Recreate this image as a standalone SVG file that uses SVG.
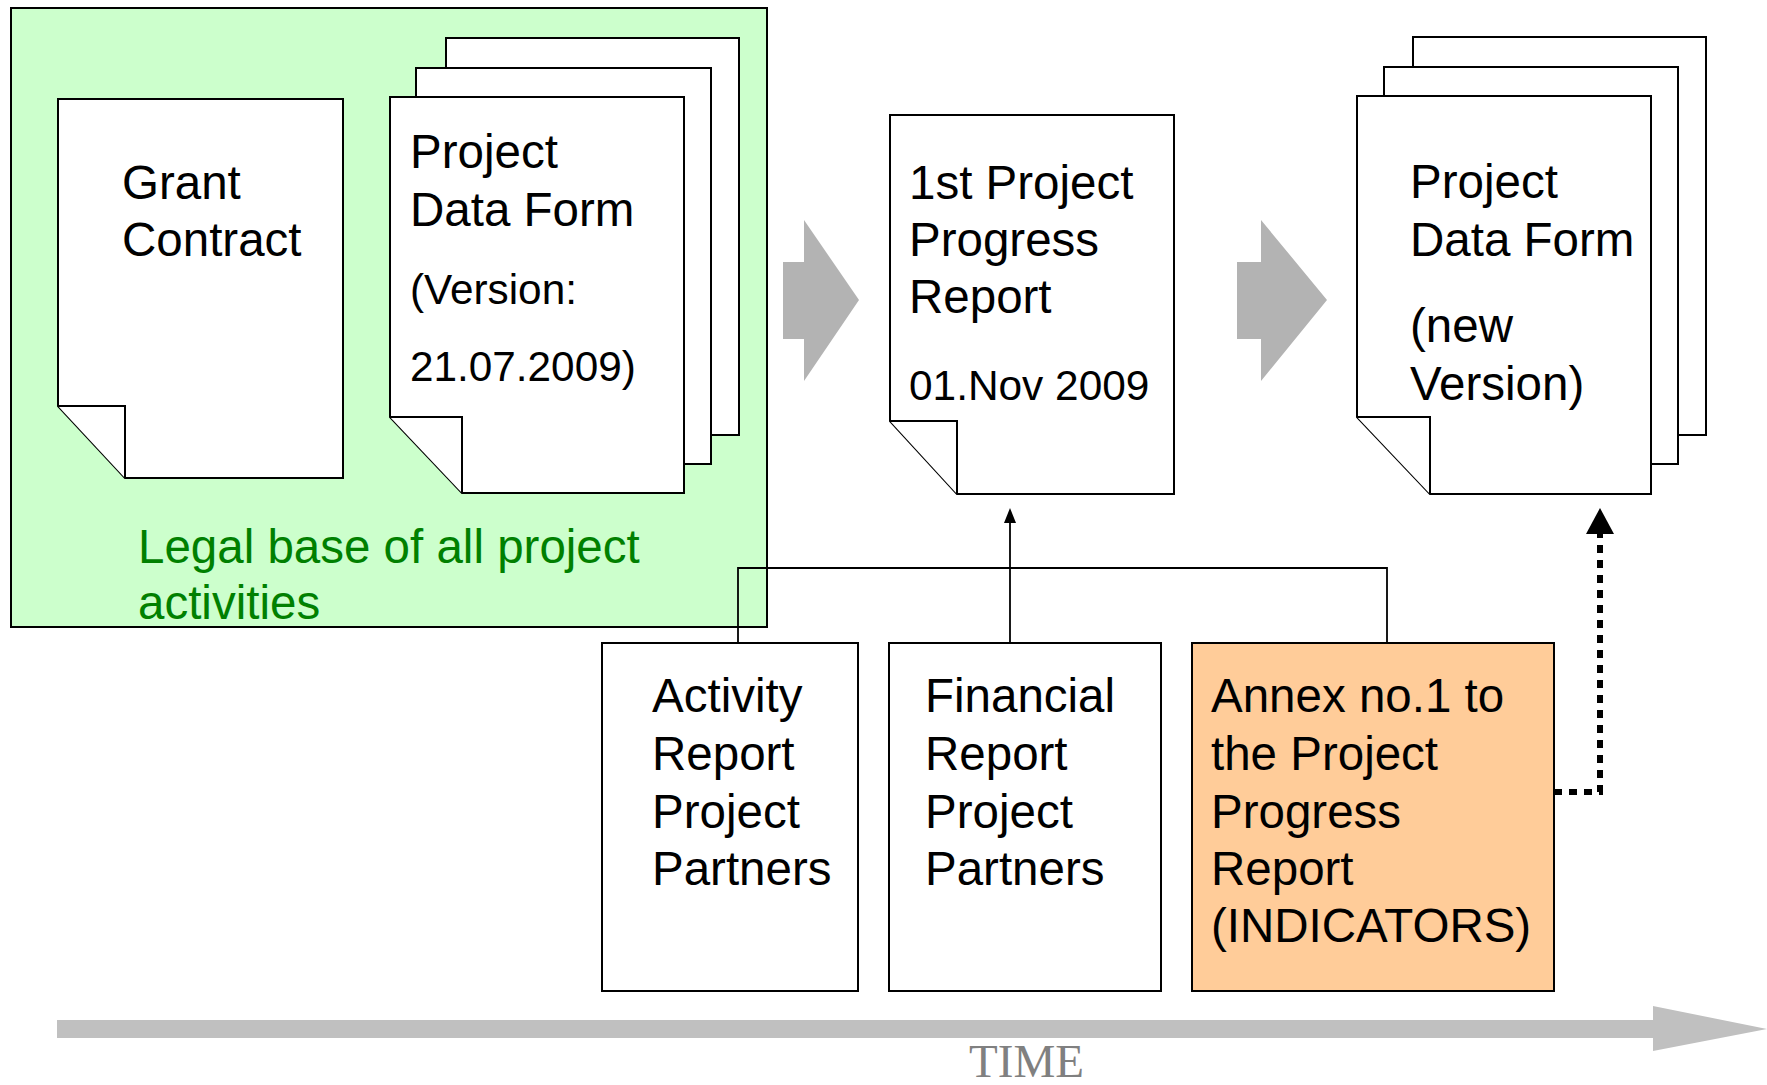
<svg xmlns="http://www.w3.org/2000/svg" width="1767" height="1085" viewBox="0 0 1767 1085">
<defs>
<style>
.doc{fill:#fff;stroke:#000;stroke-width:2}
.box{stroke:#000;stroke-width:2}
.t{font-family:"Liberation Sans",Arial,Helvetica,sans-serif;font-size:47.5px;fill:#000}
.s{font-size:42.3px}
.conn{fill:none;stroke:#000;stroke-width:1.8}
.blk{fill:#B3B3B3}
</style>
</defs>
<rect width="1767" height="1085" fill="#fff"/>

<g id="legal-base">
<rect x="11" y="8" width="756" height="619" fill="#CCFFCC" stroke="#000" stroke-width="2"/>
<text class="t" style="fill:#008000"><tspan x="138" y="563">Legal base of all project</tspan><tspan x="138" y="619">activities</tspan></text>
</g>

<g id="grant-contract">
<path class="doc" d="M58,99 H343 V478 H125 L58,406 Z"/>
<path class="doc" d="M58,406 H125 V478"/>
<text class="t"><tspan x="122" y="199">Grant</tspan><tspan x="122" y="256">Contract</tspan></text>
</g>

<g id="project-data-form">
<path class="doc" d="M446,38 H739 V435 H518 L446,359 Z"/>
<path class="doc" d="M416,68 H711 V464 H488 L416,388 Z"/>
<path class="doc" d="M390,97 H684 V493 H462 L390,417 Z"/>
<path class="doc" d="M390,417 H462 V493"/>
<text class="t"><tspan x="410" y="168">Project</tspan><tspan x="410" y="226">Data Form</tspan><tspan class="s" x="410" y="304">(Version:</tspan><tspan class="s" x="410" y="381">21.07.2009)</tspan></text>
</g>

<g id="arrow-1">
<path class="blk" d="M783,262 H804 V220 L859,300 L804,381 V339 H783 Z"/>
</g>

<g id="progress-report">
<path class="doc" d="M890,115 H1174 V494 H957 L890,421 Z"/>
<path class="doc" d="M890,421 H957 V494"/>
<text class="t"><tspan x="909" y="199">1st Project</tspan><tspan x="909" y="256">Progress</tspan><tspan x="909" y="313">Report</tspan><tspan style="font-size:42.4px" x="909" y="400">01.Nov 2009</tspan></text>
</g>

<g id="arrow-2">
<path class="blk" d="M1237,262 H1261 V220 L1327,300 L1261,381 V339 H1237 Z"/>
</g>

<g id="project-data-form-new">
<path class="doc" d="M1413,37 H1706 V435 H1486 L1413,358 Z"/>
<path class="doc" d="M1384,67 H1678 V464 H1457 L1384,387 Z"/>
<path class="doc" d="M1357,96 H1651 V494 H1430 L1357,417 Z"/>
<path class="doc" d="M1357,417 H1430 V494"/>
<text class="t"><tspan x="1410" y="198">Project</tspan><tspan x="1410" y="256">Data Form</tspan><tspan x="1410" y="342">(new</tspan><tspan x="1410" y="400">Version)</tspan></text>
</g>

<g id="connectors">
<path class="conn" d="M738,643 V568 H1387 V643"/>
<path class="conn" d="M1010,643 V520"/>
<path d="M1010,508 L1016,523 H1004 Z" fill="#000"/>
<path d="M1554,792 H1600 V534" fill="none" stroke="#000" stroke-width="6" stroke-dasharray="8 7"/>
<path d="M1600,508 L1614,534 H1586 Z" fill="#000"/>
</g>

<g id="activity-report">
<rect class="box" x="602" y="643" width="256" height="348" fill="#fff"/>
<text class="t"><tspan x="652" y="712">Activity</tspan><tspan x="652" y="770">Report</tspan><tspan x="652" y="828">Project</tspan><tspan x="652" y="885">Partners</tspan></text>
</g>

<g id="financial-report">
<rect class="box" x="889" y="643" width="272" height="348" fill="#fff"/>
<text class="t"><tspan x="925" y="712">Financial</tspan><tspan x="925" y="770">Report</tspan><tspan x="925" y="828">Project</tspan><tspan x="925" y="885">Partners</tspan></text>
</g>

<g id="annex">
<rect class="box" x="1192" y="643" width="362" height="348" fill="#FFCC99"/>
<text class="t"><tspan x="1211" y="712">Annex no.1 to</tspan><tspan x="1211" y="770">the Project</tspan><tspan x="1211" y="828">Progress</tspan><tspan x="1211" y="885">Report</tspan><tspan x="1211" y="942">(INDICATORS)</tspan></text>
</g>

<g id="time-axis">
<path d="M57,1020 H1653 V1006 L1767,1029 L1653,1051 V1038 H57 Z" fill="#C0C0C0"/>
<text x="969" y="1077" font-family="'Liberation Serif','Times New Roman',serif" font-size="47" fill="#808080" textLength="115" lengthAdjust="spacingAndGlyphs">TIME</text>
</g>
</svg>
